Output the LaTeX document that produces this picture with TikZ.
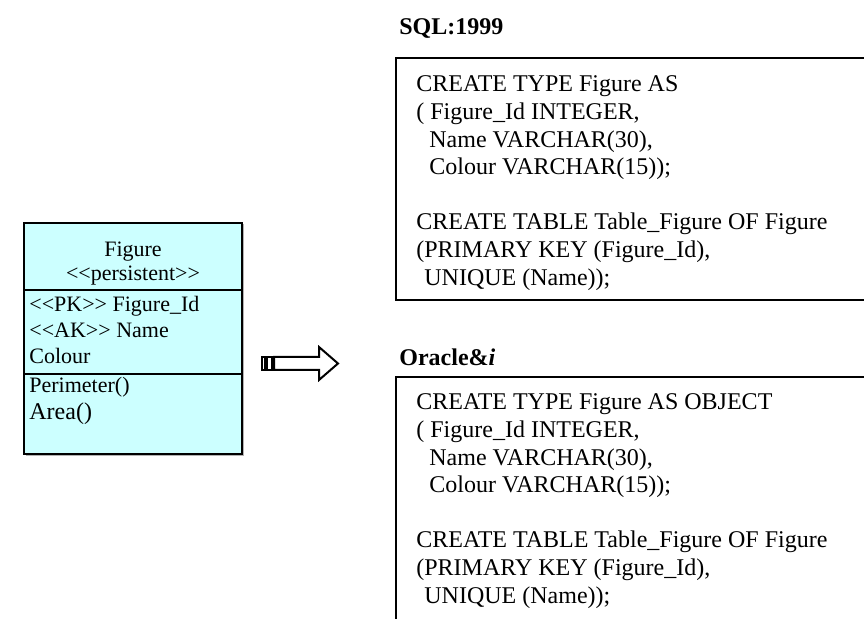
\documentclass[tikz,border=0pt]{standalone}
\usepackage{fontspec}
\setmainfont{Liberation Serif}
\newcommand\LTLT{<\kern0pt<}
\newcommand\GTGT{>\kern0pt>}
\definecolor{classfill}{HTML}{CCFFFF}
\begin{document}
\begin{tikzpicture}[x=0.5pt,y=-0.5pt,
  codeline/.style={anchor=base west, inner sep=0pt, font=\fontsize{12}{13.8}\selectfont},
  hdr/.style={anchor=base west, inner sep=0pt, font=\fontsize{12}{14}\selectfont\bfseries},
  umlline/.style={anchor=base west, inner sep=0pt, font=\fontsize{11}{13}\selectfont},
  umltitle/.style={anchor=base, inner sep=0pt, font=\fontsize{11}{13}\selectfont},
  frame/.style={line width=1pt, draw=black},
  arrowline/.style={line width=1pt, draw=black, fill=white, line join=miter}]
\useasboundingbox (0,0) rectangle (864,619);

% ---------- UML class box ----------
\fill[gray!60] (25.5,224.5) rectangle (243.5,455.8);
\filldraw[fill=classfill, draw=black, line width=0.9pt] (24,223) rectangle (242,454);
\draw[line width=1pt] (24,290) -- (242,290);
\draw[line width=1pt] (24,374) -- (242,374);
\node[umltitle] (ctitle) at (133,257) {Figure};
\node[umltitle] (cstereo) at (133,281) {\LTLT persistent\GTGT};
\node[umlline] (apk) at (29,312) {\LTLT PK\GTGT{} Figure\_Id};
\node[umlline] (aak) at (29,338) {\LTLT AK\GTGT{} Name};
\node[umlline] (acol) at (29,364) {Colour};
\node[umlline] (mper) at (29,393) {Perimeter()};
\node[umlline, font=\fontsize{12}{14}\selectfont] (marea) at (29,420) {Area()};

% ---------- striped block arrow ----------
\draw[arrowline] (261.5,357) rectangle (264.5,370);
\draw[arrowline] (267,357) rectangle (272,370);
\draw[arrowline] (274,357) -- (319,357) -- (319,347) -- (338,363.5) -- (319,380) -- (319,370) -- (274,370) -- cycle;

% ---------- SQL:1999 ----------
\node[hdr] (hsql) at (399,35) {SQL:1999};
\draw[frame] (870,58) -- (396,58) -- (396,300) -- (870,300);
\node[codeline] (s1) at (416,92) {CREATE TYPE Figure AS};
\node[codeline] (s2) at (416,119.6) {( Figure\_Id INTEGER,};
\node[codeline] (s3) at (416,147.2) {\hspace*{6.5pt}Name VARCHAR(30),};
\node[codeline] (s4) at (416,174.8) {\hspace*{6.5pt}Colour VARCHAR(15));};
\node[codeline] (s5) at (416,230) {CREATE TABLE Table\_Figure OF Figure};
\node[codeline] (s6) at (416,257.6) {(PRIMARY KEY (Figure\_Id),};
\node[codeline] (s7) at (416,285.2) {\hspace*{4pt}UNIQUE (Name));};

% ---------- Oracle8i ----------
\node[hdr] (hora) at (399,366) {Oracle\&\textit{i}};
\draw[frame] (870,377) -- (396,377) -- (396,625);
\node[codeline] (o1) at (416,410) {CREATE TYPE Figure AS OBJECT};
\node[codeline] (o2) at (416,437.6) {( Figure\_Id INTEGER,};
\node[codeline] (o3) at (416,465.2) {\hspace*{6.5pt}Name VARCHAR(30),};
\node[codeline] (o4) at (416,492.8) {\hspace*{6.5pt}Colour VARCHAR(15));};
\node[codeline] (o5) at (416,548) {CREATE TABLE Table\_Figure OF Figure};
\node[codeline] (o6) at (416,575.6) {(PRIMARY KEY (Figure\_Id),};
\node[codeline] (o7) at (416,603.2) {\hspace*{4pt}UNIQUE (Name));};
\end{tikzpicture}
\end{document}
